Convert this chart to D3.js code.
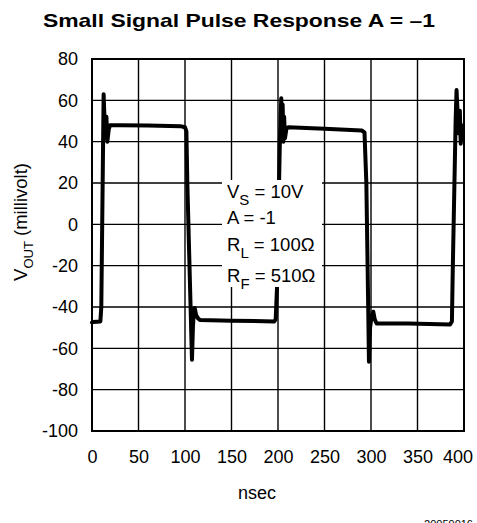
<!DOCTYPE html>
<html>
<head>
<meta charset="utf-8">
<script src="https://cdn.jsdelivr.net/npm/d3@7"></script>
<style>
  html, body { margin: 0; padding: 0; background: #fff; }
  svg { display: block; font-family: "Liberation Sans", Arial, Helvetica, sans-serif; }
</style>
</head>
<body>
<svg id="chart" width="477" height="523"></svg>
<script>
// Oscilloscope trace: inverting amplifier small-signal pulse response
const timeNs = [
  0, 1, 9, 10, 12.5, 13.5, 14.5, 15.5, 16.5, 18, 19.5, 30, 60, 95, 100, 101.5,
  102.5, 106, 107.5, 108.5, 109.5, 110.5, 112, 114, 116, 150, 196, 197.5,
  199, 202, 203.5, 204.2, 205, 205.8, 206.6, 207.5, 209, 211, 250, 290, 293,
  295, 297, 297.8, 299, 300.5, 302.5, 304, 306, 340, 385, 387,
  388, 391, 392, 393.5, 394.5, 395.5, 396.5, 397.5, 398.5, 399
];
const voutMv = [
  -47.5, -47.3, -47, -40, 63, 50, 42, 52, 40, 46, 48, 48, 47.8, 47.5, 47, 45,
  20, -40, -65.5, -50, -42, -40.5, -44, -45.5, -46.3, -46.6, -47, -46,
  -30, 40, 61, 42, 58, 40, 52, 41.7, 46, 47, 46.3, 45.4, 44.5,
  20, -40, -66.5, -50, -45, -42.3, -46, -48, -48, -48.5, -47,
  -20, 50, 65, 50, 44, 55, 39, 48, 41, 44
];

const xTicks = [0, 50, 100, 150, 200, 250, 300, 350, 400];
const yTicks = [-100, -80, -60, -40, -20, 0, 20, 40, 60, 80];

const titleText = "Small Signal Pulse Response A = \u20131";
const xLabel = "nsec";
const figureId = "20059016";

const svg = d3.select("#chart");
const plot = { left: 92, right: 464, top: 59, bottom: 431 };

const x = d3.scaleLinear().domain([0, 400]).range([plot.left, plot.right]);
const y = d3.scaleLinear().domain([-100, 80]).range([plot.bottom, plot.top]);

// Title
svg.append("text")
  .attr("x", 43).attr("y", 27)
  .attr("font-weight", "bold")
  .attr("font-size", 19)
  .attr("textLength", 392)
  .attr("lengthAdjust", "spacingAndGlyphs")
  .text(titleText);

// Grid lines
const grid = svg.append("g").attr("stroke", "#000").attr("stroke-width", 1.4);
grid.selectAll("line.v").data(xTicks).join("line")
  .attr("x1", d => x(d)).attr("x2", d => x(d))
  .attr("y1", plot.top).attr("y2", plot.bottom);
grid.selectAll("line.h").data(yTicks).join("line")
  .attr("x1", plot.left).attr("x2", plot.right)
  .attr("y1", d => y(d)).attr("y2", d => y(d));

// Plot frame
svg.append("rect")
  .attr("x", plot.left).attr("y", plot.top)
  .attr("width", plot.right - plot.left).attr("height", plot.bottom - plot.top)
  .attr("fill", "none").attr("stroke", "#000").attr("stroke-width", 2);

// Axes (labels only)
const xAxis = svg.append("g")
  .attr("transform", `translate(0,${plot.bottom})`)
  .call(d3.axisBottom(x).tickValues(xTicks).tickSize(0).tickPadding(19).tickFormat(d => String(d)));
const yAxis = svg.append("g")
  .attr("transform", `translate(${plot.left},0)`)
  .call(d3.axisLeft(y).tickValues(yTicks).tickSize(0).tickPadding(14).tickFormat(d => String(d)));
[xAxis, yAxis].forEach(g => {
  g.select(".domain").remove();
  g.selectAll("text")
    .attr("font-family", "\"Liberation Sans\", Arial, sans-serif")
    .attr("font-size", 18).attr("fill", "#000");
});
// last x label sits inside the right edge
xAxis.selectAll(".tick text").filter(d => d === 400).attr("dx", -6.5);

// Trace
const pts = timeNs.map((t, i) => [t, voutMv[i]]);
svg.append("path")
  .datum(pts)
  .attr("fill", "none")
  .attr("stroke", "#000")
  .attr("stroke-width", 4)
  .attr("stroke-linejoin", "round")
  .attr("stroke-linecap", "round")
  .attr("d", d3.line().x(d => x(d[0])).y(d => y(d[1])));

// Test conditions box
svg.append("rect")
  .attr("x", 222).attr("y", 180).attr("width", 100).attr("height", 107)
  .attr("fill", "#fff");

const cond = svg.append("g").attr("font-size", 18.5).attr("fill", "#000");
function condLine(yPos, main, sub, rest) {
  const t = cond.append("text").attr("x", 227).attr("y", yPos);
  t.append("tspan").text(main);
  if (sub) t.append("tspan").attr("dy", 7).attr("font-size", 15).text(sub);
  t.append("tspan").attr("dy", sub ? -7 : 0).text(rest);
}
condLine(198, "V", "S", " = 10V");
condLine(224, "A = -1", null, "");
condLine(251, "R", "L", " = 100\u03A9");
condLine(282, "R", "F", " = 510\u03A9");

// Axis titles
svg.append("text")
  .attr("x", 257).attr("y", 499)
  .attr("text-anchor", "middle")
  .attr("font-size", 18)
  .text(xLabel);

const yl = svg.append("text")
  .attr("transform", "translate(27,222) rotate(-90)")
  .attr("text-anchor", "middle")
  .attr("font-size", 18.5);
yl.append("tspan").text("V");
yl.append("tspan").attr("dy", 6).attr("font-size", 13).text("OUT");
yl.append("tspan").attr("dy", -6).text(" (millivolt)");

// Figure number
svg.append("text")
  .attr("x", 473).attr("y", 528)
  .attr("text-anchor", "end")
  .attr("font-size", 11)
  .text(figureId);
</script>
</body>
</html>
